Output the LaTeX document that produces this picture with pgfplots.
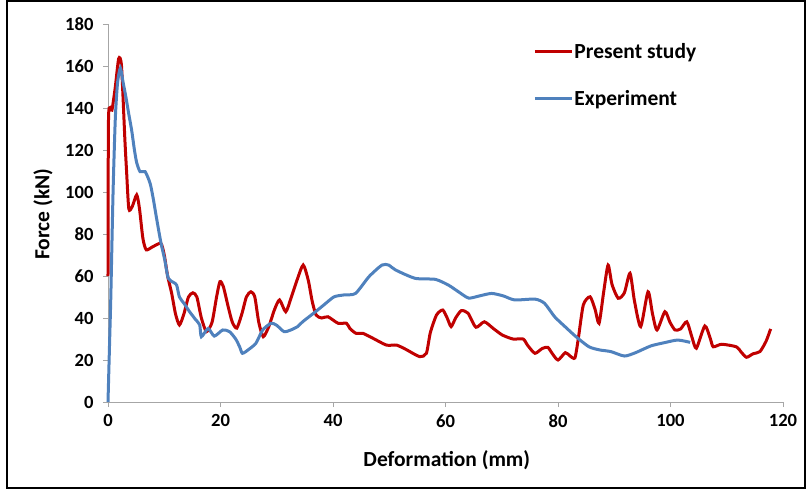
\documentclass[border=0pt]{standalone}
\usepackage{fontspec}
\setmainfont{Carlito}
\usepackage{pgfplots}
\pgfplotsset{compat=1.18}
\definecolor{exred}{HTML}{C00000}
\definecolor{exblue}{HTML}{4F81BD}
\begin{document}
\begin{tikzpicture}
\useasboundingbox (-108pt,-89pt) rectangle (698pt,402pt);
\draw[line width=1.4pt] (-101pt,-86pt) rectangle (697pt,401pt);
\begin{axis}[
  at={(0pt,0pt)}, anchor=origin,
  scale only axis, width=675pt, height=378pt,
  xmin=0, xmax=120, ymin=0, ymax=180,
  xtick={0,20,...,120}, ytick={0,20,...,180},
  axis lines*=left,
  axis line style={draw=gray!70, line width=0.8pt, -},
  tick style={draw=gray!70, line width=0.8pt},
  tick align=outside, major tick length=5pt,
  /pgf/number format/assume math mode=true,
  tick label style={font=\fontsize{18.6}{22}\selectfont\bfseries},
  xticklabel style={yshift=-4pt},
  yticklabel style={xshift=-6pt},
  every axis x label/.style={at={(axis description cs:0.502,-0.153)}, anchor=center, font=\fontsize{21.5}{25}\selectfont\bfseries},
  every axis y label/.style={at={(axis description cs:-0.0963,0.497)}, anchor=center, rotate=90, font=\fontsize{21.5}{25}\selectfont\bfseries},
  xlabel={Deformation (mm)}, ylabel={Force (kN)},
  clip=false,
  legend cell align=left,
  legend style={draw=none, fill=none, inner sep=0pt, row sep=29pt, at={(0.63,0.953)}, anchor=north west,
    font=\fontsize{21.5}{25}\selectfont\bfseries, nodes={inner sep=1pt}},
  legend image code/.code={\draw[#1] (0pt,0pt) -- (37pt,0pt);},
]
\addplot[exred, line width=3pt, smooth, tension=0.4] coordinates {
(0,60) (0.1,136) (0.7,139) (1.3,150) (1.9,163.5) (2.4,160) (3.0,125) (3.3,110) (3.7,92) (4.3,93) (5.1,98.6) (5.6,92) (6.2,78) (6.8,72.5) (8,74) (9.4,75.5) (10,70) (10.6,60) (11.3,52) (12,42) (12.7,36.7) (13.5,42) (14.3,50) (15.1,52) (15.8,50) (16.6,40) (17.5,33.5) (18.5,38) (19.3,50) (19.9,57.3) (20.5,55) (21.4,45) (22.1,38) (22.9,35.2) (23.8,42) (24.6,50) (25.4,52.5) (26.1,50) (26.8,38) (27.6,31.1) (28.6,36) (29.6,44) (30.5,48.6) (31.6,43) (32.6,50) (33.6,58) (34.7,65.2) (35.6,58) (36.3,48) (37,41.4) (38,40) (39.1,40.6) (40.9,37.5) (42.4,37.5) (43,35) (44.1,32.7) (45.3,32.7) (47,30.5) (49.5,27.1) (51.3,27.1) (53,25) (55.4,21.6) (56.6,23.2) (57.3,33) (58.4,41.4) (59.5,43.8) (60.3,40) (61,35.9) (61.8,40) (62.8,43.5) (64,42.3) (65.4,35.6) (66.9,38.2) (68.5,35) (70.1,31.9) (72,30) (73.8,30) (74.6,27) (75.9,23.2) (77.2,25.5) (78.2,26) (79,23) (80,20) (81.3,23.5) (82.1,22) (83,21) (83.6,30) (84.5,46.2) (85.7,50.1) (86.6,44) (87.3,37.5) (88.1,52) (88.9,65.2) (89.6,56) (90.7,49.4) (91.8,52) (92.8,61.3) (93.6,48) (94.7,35.9) (96.0,52.5) (96.8,42) (97.6,34.3) (99.0,43) (99.9,38) (100.8,34.3) (101.8,34.8) (102.9,38.2) (103.8,31) (104.6,25.6) (106.1,36.2) (107.1,30) (107.6,26.3) (109.1,27.5) (111.7,26.3) (112.5,24) (113.5,21.3) (114.7,23) (115.9,24) (117,29) (117.8,34.8)
};
\addlegendentry{Present study}
\addplot[exblue, line width=3pt, smooth, tension=0.4] coordinates {
(0,0) (0.3,30) (0.5,50) (0.9,100) (1.3,135) (1.7,152) (2.2,159) (2.7,152) (3.2,145) (3.7,137) (4.2,129.5) (4.7,120) (5.1,114) (5.7,109.7) (6.6,109.7) (7.5,104) (8.1,96) (8.6,88) (9.4,76) (10.1,67.6) (10.7,59) (11.6,57) (12.2,55.7) (12.7,50) (13.5,47) (14.5,43) (15.5,39.5) (16.3,36.7) (16.6,31.1) (17.8,35) (18.9,31.4) (20.4,34.3) (21.6,33.5) (22.7,30) (23.4,26.3) (23.9,23.2) (25,25) (26.3,28) (27.5,34.3) (29,37.5) (30,36.5) (31.3,33.5) (32.5,34.3) (33.7,35.9) (34.6,38.2) (36.9,43) (38.5,46.5) (40.2,50.1) (42,51) (44,51.7) (46.4,59.7) (48.7,65.2) (49.9,65.2) (51.1,62.9) (54.6,58.9) (58.2,58.4) (60.5,55.7) (62.3,52.5) (64.1,49.5) (66,50.5) (68.2,51.7) (70.3,50.5) (72.3,48.6) (75.9,49) (77.6,47) (79.4,40.6) (81.2,36) (83.2,31.1) (85.5,26.3) (87.4,24.8) (89.4,24) (91.8,21.9) (93.8,23.5) (96.5,26.7) (99,28.3) (101.3,29.5) (103.5,28.4)
};
\addlegendentry{Experiment}
\end{axis}
\end{tikzpicture}
\end{document}
